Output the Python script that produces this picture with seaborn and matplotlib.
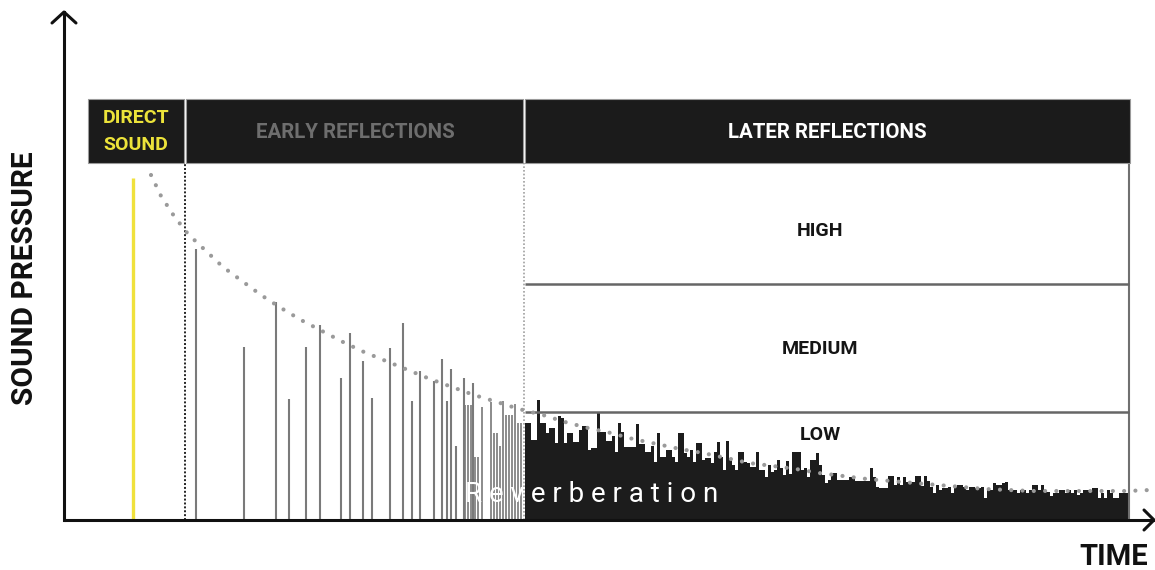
import numpy as np
import pandas as pd
import seaborn as sns
import matplotlib.pyplot as plt
from matplotlib.patches import Rectangle

# DATA (time in arbitrary units, sound pressure in arbitrary units)
direct_time = 133
direct_pressure = 342

early_times = [196, 244, 276, 289, 306, 320, 341, 350, 363, 372, 390,
               403, 412, 420, 434, 442, 447, 451, 456, 464, 473]
early_pressure = [271, 173, 218, 121, 173, 195, 142, 187, 159, 122, 172,
                  197, 119, 149, 139, 161, 119, 151, 74, 142, 137]

dense_early_times = [465, 468, 471, 475, 478, 482, 491, 494, 497, 500,
                     503, 506, 509, 512, 515, 518, 521]
dense_early_pressure = [115, 115, 115, 63, 63, 113, 118, 87, 87, 74,
                        119, 105, 105, 105, 116, 97, 97]

late_pressure = [
    97, 97, 80, 80, 120, 97, 97, 87, 92, 92,
    77, 104, 102, 77, 87, 87, 78, 78, 90, 94,
    94, 70, 72, 72, 108, 88, 88, 79, 79, 84,
    68, 97, 88, 73, 73, 73, 73, 96, 76, 76,
    68, 68, 74, 58, 87, 63, 63, 70, 70, 63,
    58, 87, 87, 67, 63, 70, 58, 77, 77, 60,
    62, 62, 57, 68, 78, 63, 50, 79, 62, 55,
    50, 68, 68, 58, 57, 53, 53, 68, 50, 50,
    43, 55, 48, 50, 60, 52, 45, 59, 46, 68,
    68, 68, 50, 52, 43, 60, 60, 67, 55, 45,
    37, 40, 47, 47, 40, 40, 40, 40, 43, 43,
    39, 39, 39, 39, 39, 52, 43, 33, 32, 32,
    32, 44, 44, 35, 43, 35, 43, 38, 38, 38,
    44, 44, 34, 44, 39, 33, 27, 35, 30, 32,
    32, 33, 27, 33, 35, 35, 33, 30, 33, 33,
    32, 32, 33, 22, 30, 30, 37, 35, 35, 37,
    38, 30, 30, 30, 27, 30, 30, 27, 30, 35,
    35, 30, 35, 30, 28, 24, 27, 27, 30, 30,
    27, 30, 27, 30, 25, 27, 30, 30, 30, 32,
    32, 22, 27, 22, 30, 27, 22, 22, 27, 27, 27,
]
late_times = np.arange(526.5, 526.5 + 3 * len(late_pressure), 3)[:len(late_pressure)]

decay_times = [151, 161, 174, 188, 206, 223, 242, 261, 281, 301, 322, 343,
               364, 386, 408, 430, 452, 474, 497, 519, 543, 565, 588, 611,
               633, 657, 680, 703, 726, 749, 773, 796, 819, 843, 867, 891,
               914, 938, 962, 985, 1008, 1032, 1056, 1079, 1103, 1127, 1150]
decay_pressure = [345, 324, 304, 286, 269, 253, 239, 225, 212, 200, 189, 178,
                  168, 159, 150, 141, 133, 125, 118, 111, 105, 98, 92, 87,
                  81, 76, 71, 67, 62, 57, 54, 51, 47, 44, 41, 39,
                  37, 35, 33, 31, 30, 29, 29, 29, 29, 29, 30]

late_bands = ["HIGH", "MEDIUM", "LOW"]

sns.set_theme(style="white")
plt.rcParams["font.family"] = ["Roboto", "DejaVu Sans"]

fig = plt.figure(figsize=(11.55, 5.7), dpi=100)
ax = fig.add_axes([0, 0, 1, 1])

# REFLECTION BARS
df_late = pd.DataFrame({"t": late_times, "p": late_pressure})
df_dense = pd.DataFrame({"t": dense_early_times, "p": dense_early_pressure})
sns.barplot(data=df_dense, x="t", y="p", native_scale=True, width=0.72,
            color="#8e8e8e", saturation=1, errorbar=None, ax=ax, zorder=2,
            linewidth=0)
sns.barplot(data=df_late, x="t", y="p", native_scale=True, width=0.72,
            color="#1c1c1c", saturation=1, errorbar=None, ax=ax, zorder=2,
            linewidth=0)
# crisp bars so the thin white gaps stay visible
for bar in ax.patches:
    bar.set_antialiased(False)

ax.vlines(early_times, 0, early_pressure, color="#7a7a7a", lw=1.5, zorder=2)
ax.vlines(direct_time, 0, direct_pressure, color="#f0e13c", lw=2.4, zorder=2)

# DECAY CURVE
sns.lineplot(x=decay_times, y=decay_pressure, ax=ax, color="#9a9a9a",
             lw=3, linestyle=(0, (0.01, 2.7)), dash_capstyle="round",
             zorder=4, sort=False)

# SECTION BOUNDARIES
ax.vlines(185, 0, 357, color="#222222", lw=1.4, linestyle=(0, (1, 1)), zorder=3)
ax.vlines(524, 0, 357, color="#a0a0a0", lw=1.2, linestyle=(0, (1, 1.2)), zorder=3)
ax.vlines(1129, 0, 357, color="#707070", lw=1.5, zorder=3)
ax.hlines([236, 108], 525, 1129, color="#666666", lw=1.8, zorder=3)

# HEADER BOXES
for x0, x1 in [(88, 184), (186, 523), (525, 1130)]:
    ax.add_patch(Rectangle((x0, 357), x1 - x0, 64, facecolor="#1b1b1b",
                           edgecolor="#9a9a9a", lw=0.8, zorder=3))
ax.text(136, 402, "DIRECT", ha="center", va="center", fontsize=14,
        weight="bold", color="#ece33a", zorder=5)
ax.text(136, 375, "SOUND", ha="center", va="center", fontsize=14,
        weight="bold", color="#ece33a", zorder=5)
ax.text(355, 387, "EARLY REFLECTIONS", ha="center", va="center",
        fontsize=14.8, weight="bold", color="#6e6e6e", zorder=5)
ax.text(827, 387, "LATER REFLECTIONS", ha="center", va="center",
        fontsize=14.8, weight="bold", color="white", zorder=5)

for label, y in zip(late_bands, [289, 171, 85]):
    ax.text(820, y, label, ha="center", va="center", fontsize=14,
            weight="semibold", color="#151515", zorder=5)

ax.text(592, 26, "R e v e r b e r a t i o n", ha="center", va="center",
        fontsize=20, weight="normal", color="white", zorder=6)

# AXES WITH ARROWS
ax.plot([64, 64], [0, 508], color="#111111", lw=2.2, zorder=5,
        solid_capstyle="projecting")
ax.plot([64, 1154], [0, 0], color="#111111", lw=2.2, zorder=5)
ax.plot([52, 64, 76], [497, 508, 497], color="#111111", lw=2.2, zorder=5)
ax.plot([1144, 1154, 1144], [10, 0, -10], color="#111111", lw=2.2, zorder=5)

ax.text(25, 242, "SOUND PRESSURE", rotation=90, ha="center", va="center",
        fontsize=21.5, weight="bold", color="#111111")
ax.text(1114, -37, "TIME", ha="center", va="center", fontsize=21,
        weight="bold", color="#111111")

ax.set_xlim(0, 1155)
ax.set_ylim(-50, 520)
ax.axis("off")

plt.savefig("out.png", dpi=100)
